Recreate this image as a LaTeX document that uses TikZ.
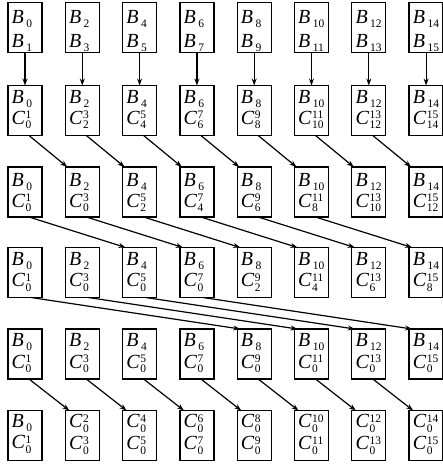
\documentclass[tikz,border=0pt]{standalone}
\usepackage{fontspec}
\setmainfont{Liberation Serif}
\usetikzlibrary{arrows.meta}
\newcommand\dg[1]{{\fontsize{11.5}{12}\selectfont#1}}
\newcommand\Bl[1]{\textit{B}\kern2.5pt\raisebox{-4pt}{\dg{#1}}}
\newcommand\Cl[2]{\textit{C}\kern0.5pt\rlap{\raisebox{5.5pt}{\dg{#2}}}\raisebox{-4.5pt}{\dg{#1}}}
\newcommand\cellbox[7]{%
  \node[cbox] (#1) at (#2,#3) {};
  \node[lbl] at ([shift={(3.5,#6)}]#1.north west) {#4};
  \node[lbl] at ([shift={(3.5,#7)}]#1.north west) {#5};
}
\tikzset{
  cbox/.style={draw, line width=1.3pt, minimum width=34pt, minimum height=50pt, inner sep=0pt, outer sep=0pt},
  lbl/.style={anchor=base west, inner sep=0pt, font=\fontsize{20}{24}\selectfont},
  arr/.style={line width=1.2pt, -{Stealth[length=7pt,width=5pt]}}
}
\begin{document}
\begin{tikzpicture}[x=1pt,y=-1pt]
\useasboundingbox (0,0) rectangle (443,465);
\foreach \i in {0,...,7}{
  \pgfmathsetmacro\xx{25+57.3*\i}
  \pgfmathtruncatemacro\ev{2*\i}
  \pgfmathtruncatemacro\od{2*\i+1}
  \pgfmathtruncatemacro\sa{max(0,2*\i-2)}
  \pgfmathtruncatemacro\sb{max(0,2*\i-6)}
  \cellbox{r1c\i}{\xx}{27.5}{\Bl{\ev}}{\Bl{\od}}{21}{45}
  \cellbox{r2c\i}{\xx}{110.5}{\Bl{\ev}}{\Cl{\ev}{\od}}{18}{39}
  \cellbox{r3c\i}{\xx}{192}{\Bl{\ev}}{\Cl{\sa}{\od}}{19}{40}
  \cellbox{r4c\i}{\xx}{272.5}{\Bl{\ev}}{\Cl{\sb}{\od}}{18}{39}
  \cellbox{r5c\i}{\xx}{354}{\Bl{\ev}}{\Cl{0}{\od}}{17}{39}
}
\cellbox{r6c0}{25}{435.5}{\Bl{0}}{\Cl{0}{1}}{17}{38}
\foreach \i in {1,...,7}{
  \pgfmathsetmacro\xx{25+57.3*\i}
  \pgfmathtruncatemacro\ev{2*\i}
  \pgfmathtruncatemacro\od{2*\i+1}
  \cellbox{r6c\i}{\xx}{435.5}{\Cl{0}{\ev}}{\Cl{0}{\od}}{17}{39}
}
\foreach \i in {0,...,7}
  \draw[arr] (r1c\i.south) -- (r2c\i.north);
\foreach \i [evaluate=\i as \j using int(\i+1)] in {0,...,6}
  \draw[arr] ([xshift=4pt]r2c\i.south) -- ([xshift=2pt]r3c\j.north west);
\foreach \i [evaluate=\i as \j using int(\i+2)] in {0,...,5}
  \draw[arr] ([xshift=4pt]r3c\i.south) -- ([xshift=3pt]r4c\j.north west);
\foreach \i [evaluate=\i as \j using int(\i+4)] in {0,...,3}
  \draw[arr] ([xshift=6pt]r4c\i.south) -- ([xshift=3pt]r5c\j.north west);
\foreach \i [evaluate=\i as \j using int(\i+1)] in {0,...,6}
  \draw[arr] ([xshift=4pt]r5c\i.south) -- ([xshift=4pt]r6c\j.north west);
\end{tikzpicture}
\end{document}
